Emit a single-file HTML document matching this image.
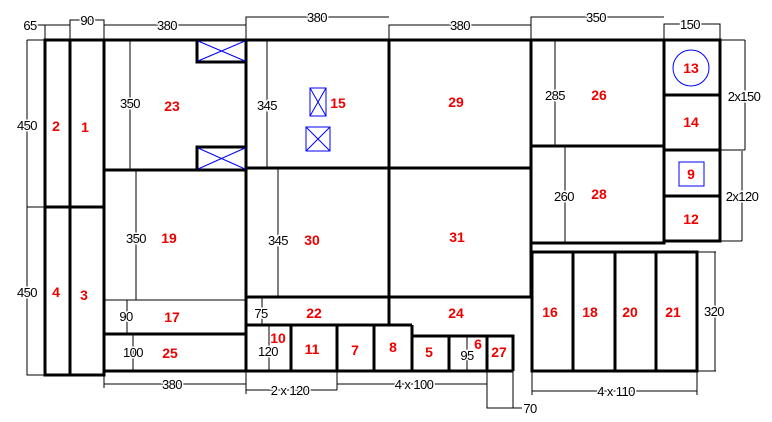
<!DOCTYPE html>
<html><head><meta charset="utf-8"><style>
html,body{margin:0;padding:0;background:#fff;width:772px;height:422px;overflow:hidden}
svg{display:block}
.r{fill:#e00;font:bold 14px "Liberation Sans",sans-serif;text-anchor:middle}
.d{fill:#000;font:13px "Liberation Sans",sans-serif;text-anchor:middle;letter-spacing:-0.6px}
.d text{paint-order:stroke;stroke:#fff;stroke-width:3px}
</style></head><body>
<svg width="772" height="422" viewBox="0 0 772 422">
<g stroke="#000" stroke-width="1" fill="none">
<path d="M37 25H45M45 40V25H70M70 40V20H104V40M104 25H246M246 40V17H389M389 40V25H531M531 40V17H664M664 40V24H720V40"/>
<path d="M27 40H45M27 40V207M27 207H45M27 207V375H45"/>
<path d="M720 40H745M745 40V150M720 150H745M742 151V241M720 241H742M697 252H716M715 252V371M697 371H716"/>
<path d="M104 371V388M104 384H246M246 371V394M246 390H337M337 371V390M337 384H487M487 371V408H513V371M513 408H522M532 371V395M532 391H697M697 371V395"/>
<path d="M130 40V170M136 170V300H150M127 300V334M133 334V371M267 40V168M278 168V297M262 297V325M269 325V371M555 40V146M565 146V243M467 336V371"/>
<path d="M104 300H246"/>
</g>
<g stroke="#000" stroke-width="3" fill="none">
<rect x="45" y="40" width="59" height="335"/>
<path d="M70 40V375M45 207H104"/>
<path d="M104 40H246V371H104M104 170H246M104 334H246"/>
<rect x="197" y="40" width="49" height="22"/>
<rect x="197" y="147" width="49" height="23"/>
<path d="M246 40H389V297M246 168H531M246 297H531M246 325H412M389 40H531V297M389 297V325H412"/>
<path d="M246 371H513M291 325V371M337 325V371M374 325V371M412 325V371M412 336H513V371M449 336V371M487 336V371"/>
<path d="M531 40H664V243H531V40M531 146H664"/>
<path d="M664 40H720V241H664M664 95H720M664 150H720M664 196H720"/>
<rect x="532" y="252" width="165" height="119"/>
<path d="M573 252V371M615 252V371M656 252V371"/>
</g>
<g stroke="#00f" stroke-width="1" fill="none">
<path d="M198 41L245 61M198 61L245 41M198 148L245 169M198 169L245 148"/>
<rect x="310" y="88" width="16" height="28"/><path d="M310 88L326 116M326 88L310 116"/>
<rect x="306" y="127" width="24" height="24"/><path d="M306 127L330 151M330 127L306 151"/>
<circle cx="691" cy="68" r="18"/>
<rect x="679" y="162" width="25" height="24"/>
</g>
<g class="r">
<text x="56" y="131">2</text><text x="85" y="132">1</text>
<text x="56" y="297">4</text><text x="84" y="300">3</text>
<text x="172" y="111">23</text><text x="169" y="243">19</text>
<text x="172" y="322">17</text><text x="170" y="358">25</text>
<text x="338" y="108">15</text><text x="312" y="245">30</text>
<text x="314" y="318">22</text><text x="278" y="343">10</text>
<text x="312" y="354">11</text><text x="355" y="355">7</text>
<text x="393" y="352">8</text><text x="429" y="357">5</text>
<text x="478" y="349">6</text><text x="499" y="357">27</text>
<text x="456" y="107">29</text><text x="457" y="242">31</text>
<text x="456" y="318">24</text>
<text x="599" y="100">26</text><text x="599" y="199">28</text>
<text x="691" y="73">13</text><text x="691" y="127">14</text>
<text x="691" y="179">9</text><text x="691" y="224">12</text>
<text x="550" y="317">16</text><text x="590" y="317">18</text>
<text x="630" y="317">20</text><text x="673" y="317">21</text>
</g>
<g class="d">
<text x="30" y="30">65</text><text x="87" y="25">90</text>
<text x="167" y="30">380</text><text x="317" y="22">380</text>
<text x="460" y="30">380</text><text x="596" y="22">350</text>
<text x="690" y="29">150</text>
<text x="27" y="130">450</text>
<text x="27" y="297">450</text>
<text x="130" y="108">350</text>
<text x="136" y="243">350</text>
<text x="126" y="321">90</text>
<text x="133" y="357">100</text>
<text x="267" y="110">345</text>
<text x="278" y="245">345</text>
<text x="261" y="318">75</text>
<text x="268" y="356">120</text>
<text x="467" y="360">95</text>
<text x="555" y="100">285</text>
<text x="564" y="201">260</text>
<text x="744" y="101">2x150</text>
<text x="742" y="201">2x120</text>
<text x="714" y="316">320</text>
<text x="172" y="389">380</text>
<text x="290" y="395">2 x 120</text>
<text x="414" y="389">4 x 100</text>
<text x="530" y="413">70</text>
<text x="616" y="396">4 x 110</text>
</g>
</svg>
</body></html>
